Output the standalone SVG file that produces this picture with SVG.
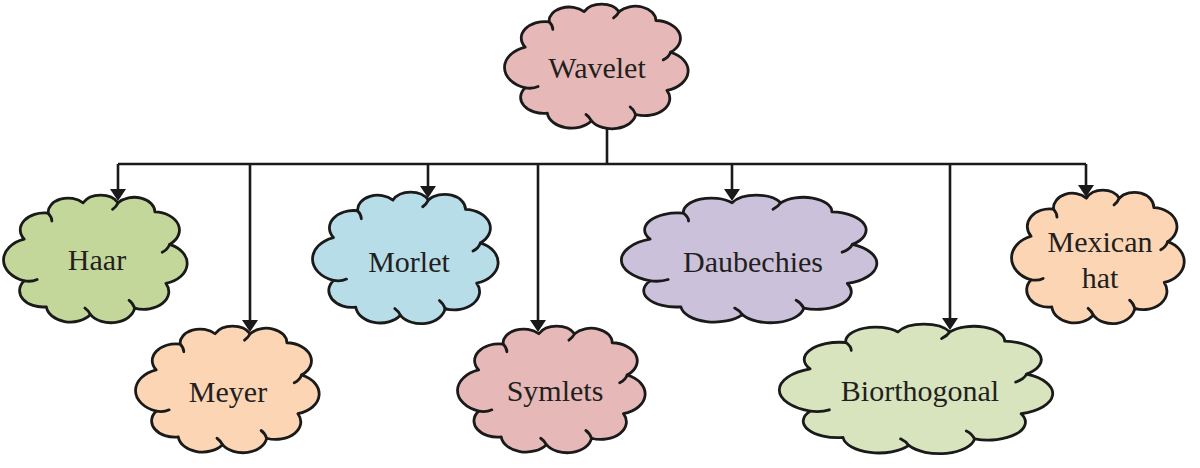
<svg xmlns="http://www.w3.org/2000/svg" width="1200" height="468" viewBox="0 0 1200 468">
<style>
.cloud{stroke:#1a1a1a;stroke-width:2.8;stroke-linejoin:round;vector-effect:non-scaling-stroke}
.curl{fill:none;stroke:#1a1a1a;stroke-width:2.8;stroke-linecap:round;vector-effect:non-scaling-stroke}
.lbl{font-family:"Liberation Serif","Times New Roman",serif;font-size:30px;fill:#231f20;text-anchor:middle}
.conn{fill:none;stroke:#1a1a1a;stroke-width:2.6}
</style>
<defs>
<path id="cl" class="cloud" d="M11,66 A17,17 0 0 1 11,34 A13,13 0 0 1 24,14 A10.9,10.9 0 0 1 43,6 A10.6,10.6 0 0 1 62,6 A11.2,11.2 0 0 1 82,13 A14,14 0 0 1 90,38 A16,16 0 0 1 88,68 A13.6,13.6 0 0 1 71,87 A13,13 0 0 1 47,92 A13.2,13.2 0 0 1 23,86 A12.6,12.6 0 0 1 11,66 Z"/>
<path id="cu" class="curl" d="M11,66 Q15,67 18,65 M24,14 Q26,17 26,20 M62,6 Q61,9 59,11 M90,38 Q89,42 86,44 M71,87 Q70,83 68,81 M47,92 Q46,89 44,87"/>
<marker id="ah" viewBox="0 0 12 16" refX="6" refY="8" markerWidth="12" markerHeight="16" markerUnits="userSpaceOnUse" orient="auto">
<path d="M0,0 L12,8 L0,16 Z" fill="#1a1a1a"/>
</marker>
</defs>
<g id="wavelet">
<g transform="translate(505,4) scale(1.84,1.27)" fill="#e6b9b8"><use href="#cl"/><use href="#cu"/></g>
<text class="lbl" x="597" y="78">Wavelet</text>
</g>
<g id="haar">
<g transform="translate(4,195) scale(1.84,1.30)" fill="#c4d79b"><use href="#cl"/><use href="#cu"/></g>
<text class="lbl" x="97" y="270">Haar</text>
</g>
<g id="meyer">
<g transform="translate(136,326) scale(1.84,1.29)" fill="#fcd5b5"><use href="#cl"/><use href="#cu"/></g>
<text class="lbl" x="228" y="402">Meyer</text>
</g>
<g id="morlet">
<g transform="translate(313,192) scale(1.86,1.34)" fill="#b7dde8"><use href="#cl"/><use href="#cu"/></g>
<text class="lbl" x="409" y="272">Morlet</text>
</g>
<g id="symlets">
<g transform="translate(458,326) scale(1.88,1.29)" fill="#e6b9b8"><use href="#cl"/><use href="#cu"/></g>
<text class="lbl" x="555" y="401">Symlets</text>
</g>
<g id="daubechies">
<g transform="translate(622,195) scale(2.56,1.30)" fill="#ccc1da"><use href="#cl"/><use href="#cu"/></g>
<text class="lbl" x="753" y="272">Daubechies</text>
</g>
<g id="biorthogonal">
<g transform="translate(780,324) scale(2.74,1.32)" fill="#d7e4bd"><use href="#cl"/><use href="#cu"/></g>
<text class="lbl" x="920" y="401">Biorthogonal</text>
</g>
<g id="mexican-hat">
<g transform="translate(1012,190) scale(1.73,1.36)" fill="#fcd5b5"><use href="#cl"/><use href="#cu"/></g>
<text class="lbl" x="1100" y="252">Mexican</text>
<text class="lbl" x="1100" y="288">hat</text>
</g>
<g id="connectors">
<path class="conn" d="M607,128 V164 M118,164 H1086"/>
<path class="conn" marker-end="url(#ah)" d="M118,164 V195"/>
<path class="conn" marker-end="url(#ah)" d="M250,164 V326"/>
<path class="conn" marker-end="url(#ah)" d="M428,164 V192"/>
<path class="conn" marker-end="url(#ah)" d="M538,164 V326"/>
<path class="conn" marker-end="url(#ah)" d="M732,164 V195"/>
<path class="conn" marker-end="url(#ah)" d="M950,164 V324"/>
<path class="conn" marker-end="url(#ah)" d="M1086,164 V191"/>
</g>
</svg>
